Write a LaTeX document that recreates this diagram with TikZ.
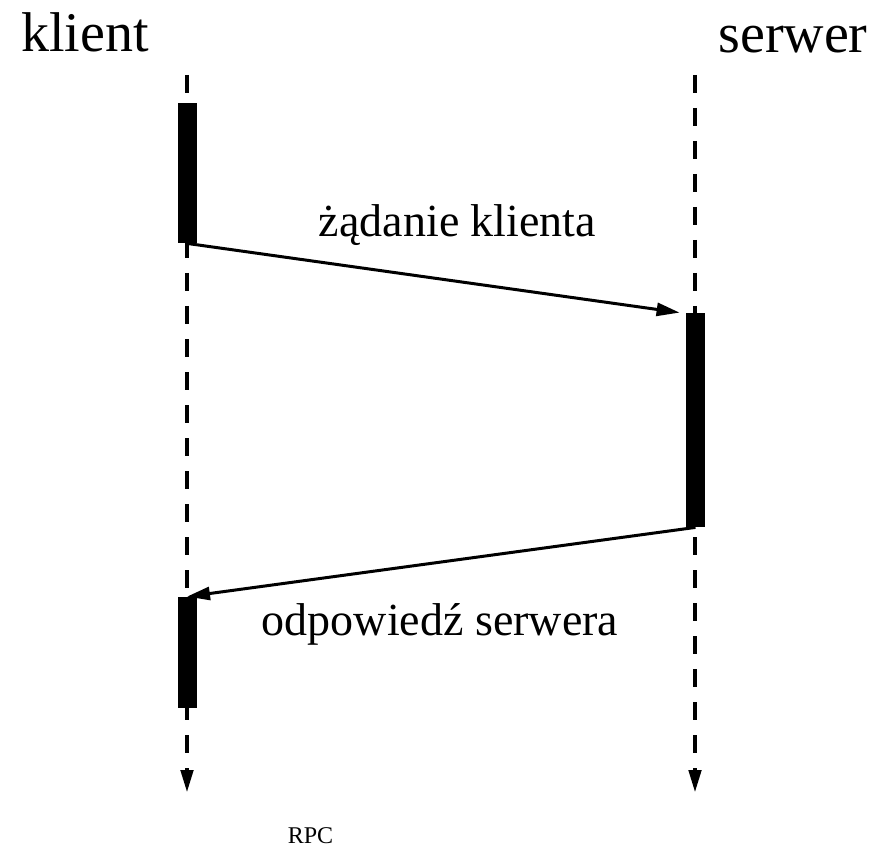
\documentclass[tikz,border=0pt]{standalone}
\usepackage{fontspec}
\setmainfont{Liberation Serif}
\usetikzlibrary{arrows.meta}
\tikzset{
	lifeline/.style={line width=2.25pt, dash pattern=on 9pt off 7.5pt, -{Triangle[length=11.5pt, width=6pt]}},
	bar/.style={fill=black, draw=none, inner sep=0pt, minimum width=9.5pt},
	msg/.style={line width=1.5pt, -{Triangle[length=11.5pt, width=6.5pt]}},
	party/.style={inner sep=0pt, font=\fontsize{28}{30}\selectfont},
	msglabel/.style={inner sep=0pt, font=\fontsize{23}{25}\selectfont},
}

\begin{document}
\begin{tikzpicture}[x=0.5pt, y=-0.5pt]
			%%%%% START %%%%%
			\useasboundingbox (0, 0) rectangle (878, 850);
			
			\node[party, anchor=base west] (klient) at (21, 52) {klient};
			\node[party, anchor=base east] (serwer) at (868, 53) {serwer};
			
			\coordinate (ktop) at (187, 75);
			\coordinate (kend) at (187, 793);
			\coordinate (stop) at (695, 75);
			\coordinate (send) at (695, 793);
			\draw[lifeline] (ktop) -- (kend);
			\draw[lifeline] (stop) -- (send);
			
			\node[bar, minimum height=70pt] (kbar1) at (187, 173) {};
			\node[bar, minimum height=107pt] (sbar) at (695.5, 420) {};
			\node[bar, minimum height=55.5pt] (kbar2) at (187, 652.5) {};
			
			\draw[msg] (kbar1.south) -- ([xshift=-3pt]sbar.north west);
			\draw[msg] (sbar.south) -- (kbar2.north);
			
			\node[msglabel, anchor=base] (zad) at (457.5, 237) {żądanie klienta};
			\node[msglabel, anchor=base] (odp) at (440, 635) {odpowiedź serwera};
			
			\node[inner sep=0pt, anchor=base, font=\fontsize{12}{14}\selectfont] (rpc) at (310.5, 843) {RPC};
			%%%%% END %%%%%
		\end{tikzpicture}
\end{document}
